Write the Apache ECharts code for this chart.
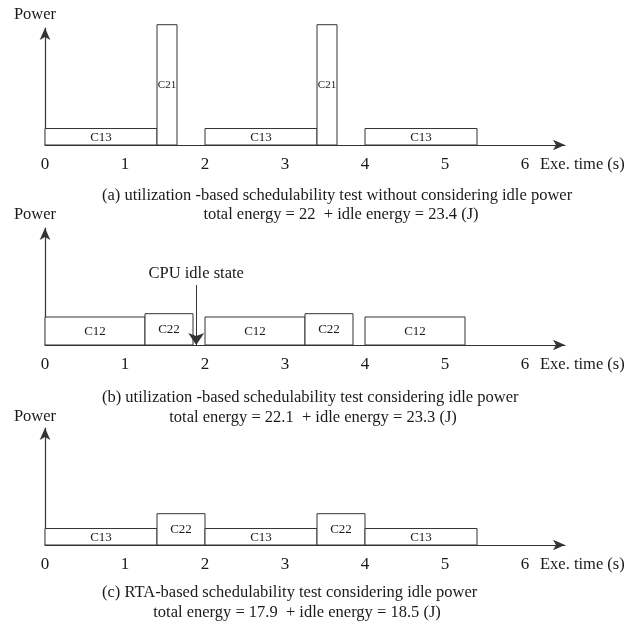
<!DOCTYPE html>
<html>
<head>
<meta charset="utf-8">
<script src="https://cdn.jsdelivr.net/npm/echarts@6/dist/echarts.min.js"></script>
<style>
html,body{margin:0;padding:0;background:#fff;}
#chart{width:630px;height:625px;}
</style>
</head>
<body>
<div id="chart"></div>
<script>
// ---- data ----
const xTicks = [0, 1, 2, 3, 4, 5, 6];

const tasksA = ['C13', 'C21', 'C13', 'C21', 'C13'];
const startA = [0, 1.4, 2, 3.4, 4];
const endA   = [1.4, 1.65, 3.4, 3.65, 5.4];
const powerA = [1.0, 7.3, 1.0, 7.3, 1.0];

const tasksB = ['C12', 'C22', 'C12', 'C22', 'C12'];
const startB = [0, 1.25, 2, 3.25, 4];
const endB   = [1.25, 1.85, 3.25, 3.85, 5.25];
const powerB = [1.7, 1.9, 1.7, 1.9, 1.7];

const tasksC = ['C13', 'C22', 'C13', 'C22', 'C13'];
const startC = [0, 1.4, 2, 3.4, 4];
const endC   = [1.4, 2, 3.4, 4, 5.4];
const powerC = [1.0, 1.9, 1.0, 1.9, 1.0];

const idleTime = 1.89;
const idleArrowTop = 3.64;
const idleLabel = 'CPU idle state';

const captionsA = ['(a) utilization -based schedulability test without considering idle power',
                   'total energy = 22  + idle energy = 23.4 (J)'];
const captionsB = ['(b) utilization -based schedulability test considering idle power',
                   'total energy = 22.1  + idle energy = 23.3 (J)'];
const captionsC = ['(c) RTA-based schedulability test considering idle power',
                   'total energy = 17.9  + idle energy = 18.5 (J)'];
const yName = 'Power';
const xName = 'Exe. time (s)';

// ---- chart ----
const FONT = '"Liberation Serif", "Times New Roman", serif';
const TXT = '#1a1a1a';
const LINE = '#333';
const FS = 16.5;

function buildData(s, e, p) {
  return s.map((v, i) => [v, e[i], p[i]]);
}

function makeRender(tasks) {
  return function (params, api) {
    const i = params.dataIndex;
    const p0 = api.coord([api.value(0), api.value(2)]);
    const p1 = api.coord([api.value(1), 0]);
    const w = p1[0] - p0[0];
    const h = p1[1] - p0[1];
    return {
      type: 'group',
      children: [
        { type: 'rect', shape: { x: p0[0], y: p0[1], width: w, height: h },
          style: { fill: '#fff', stroke: LINE, lineWidth: 1 } },
        { type: 'text', style: { x: p0[0] + w / 2, y: p0[1] + h / 2 + 0.5, text: tasks[i],
          align: 'center', verticalAlign: 'middle',
          fontFamily: FONT, fontSize: w < 25 ? 11 : 13, fill: TXT } }
      ]
    };
  };
}

const gridTops = [28, 228, 428];
const grids = gridTops.map(t => ({ left: 45, top: t, width: 520, height: 117 }));

const xAxes = grids.map((g, i) => ({
  type: 'value', gridIndex: i, min: 0, max: 6.5, interval: 1,
  axisLine: { show: true, symbol: ['none', 'arrow'], symbolSize: [8, 12],
              lineStyle: { color: LINE, width: 1.2 } },
  axisTick: { show: false },
  splitLine: { show: false },
  axisLabel: {
    margin: 11, fontFamily: FONT, fontSize: 17, color: TXT,
    showMaxLabel: false,
    formatter: v => (xTicks.indexOf(v) >= 0 ? String(v) : '')
  }
}));

const yAxes = grids.map((g, i) => ({
  type: 'value', gridIndex: i, min: 0, max: 7.1,
  axisLine: { show: true, symbol: ['none', 'arrow'], symbolSize: [8, 12],
              lineStyle: { color: LINE, width: 1.2 } },
  axisTick: { show: false },
  splitLine: { show: false },
  axisLabel: { show: false }
}));

function customSeries(idx, tasks, s, e, p) {
  return {
    type: 'custom', xAxisIndex: idx, yAxisIndex: idx, clip: false, silent: true,
    renderItem: makeRender(tasks),
    encode: { x: [0, 1], y: 2 },
    data: buildData(s, e, p),
    z: 3
  };
}

const series = [
  customSeries(0, tasksA, startA, endA, powerA),
  customSeries(1, tasksB, startB, endB, powerB),
  customSeries(2, tasksC, startC, endC, powerC),
  {
    type: 'line', xAxisIndex: 1, yAxisIndex: 1, data: [], silent: true,
    markLine: {
      silent: true, animation: false,
      symbol: ['none', 'arrow'], symbolSize: 12,
      lineStyle: { color: LINE, width: 1, type: 'solid' },
      label: { show: true, position: 'start', distance: 3, formatter: idleLabel,
               fontFamily: FONT, fontSize: FS, color: TXT },
      data: [[ { coord: [idleTime, idleArrowTop] }, { coord: [idleTime, 0] } ]]
    }
  }
];

function txt(x, y, text, align) {
  return { type: 'text', x: x, y: y, silent: true,
    style: { text: text, fontFamily: FONT, fontSize: FS, fill: TXT,
             align: align || 'left', verticalAlign: 'middle' } };
}

const graphics = [
  txt(35, 15, yName, 'center'),
  txt(35, 215, yName, 'center'),
  txt(35, 417, yName, 'center'),
  txt(540, 165, xName),
  txt(540, 365, xName),
  txt(540, 565, xName),
  txt(102, 196, captionsA[0]),
  txt(341, 215, captionsA[1], 'center'),
  txt(102, 398, captionsB[0]),
  txt(313, 418, captionsB[1], 'center'),
  txt(102, 593, captionsC[0]),
  txt(297, 613, captionsC[1], 'center')
];

const chart = echarts.init(document.getElementById('chart'));
chart.setOption({
  animation: false,
  backgroundColor: '#fff',
  grid: grids,
  xAxis: xAxes,
  yAxis: yAxes,
  series: series,
  graphic: graphics
});
</script>
</body>
</html>
